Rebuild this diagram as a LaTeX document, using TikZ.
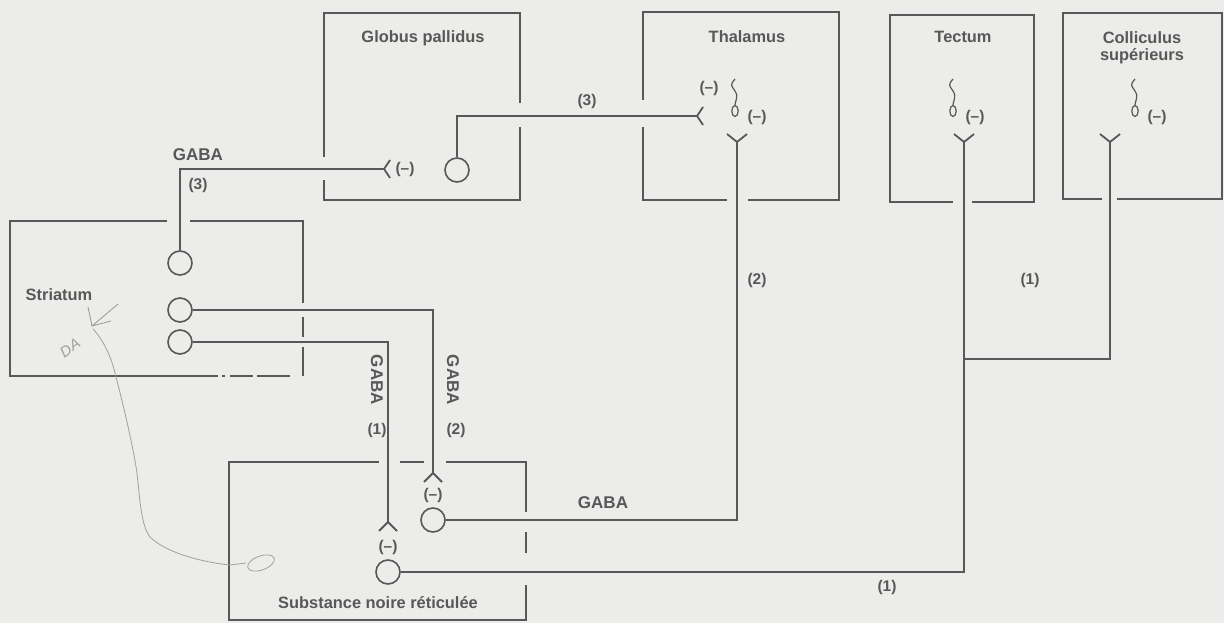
\documentclass[tikz,border=0pt]{standalone}
\usepackage{fontspec}
\setmainfont{Liberation Sans}
\usetikzlibrary{calc}
\definecolor{ink}{RGB}{88,88,88}
\definecolor{paper}{RGB}{236,236,234}
\definecolor{pencil}{RGB}{160,160,160}
\newcommand\forkR[1]{\draw[wire] (#1) -- ++(6,-9) (#1) -- ++(6,9);}
\newcommand\forkU[1]{\draw[wire] (#1) -- ++(-10,-8) (#1) -- ++(10,-8);}
\newcommand\forkD[1]{\draw[wire] (#1) -- ++(-9,9) (#1) -- ++(9,9);}
\newcommand\axonend[1]{\draw[ink,line width=1.2pt] ($(#1)+(0,-32)$) .. controls ++(-5,6) and ++(-4,-6) .. ($(#1)+(0,-20)$) .. controls ++(4,6) and ++(0,-4) .. ($(#1)+(0,-6)$);
  \draw[ink,line width=1.2pt] (#1) ellipse [x radius=3.2, y radius=5.5];}
\begin{document}
\begin{tikzpicture}[x=1pt,y=-1pt,
  box/.style={draw=ink,line width=2.2pt},
  wire/.style={draw=ink,line width=1.8pt},
  neuron/.style={circle,draw=ink,line width=1.6pt,minimum size=24pt,inner sep=0pt},
  lbl/.style={text=ink,font=\fontsize{16.4}{19}\selectfont\bfseries,inner sep=0pt,align=center},
  slbl/.style={text=ink,font=\fontsize{15.5}{17}\selectfont\bfseries,inner sep=0pt},
  glbl/.style={text=ink,font=\fontsize{17}{19}\selectfont\bfseries,inner sep=0pt}]
\fill[paper] (0,0) rectangle (1224,623);
\useasboundingbox (0,0) rectangle (1224,623);

% ---------- boxes ----------
% Globus pallidus
\draw[box] (324,157) -- (324,13) -- (520,13) -- (520,103) (520,127) -- (520,200) -- (324,200) -- (324,180);
% Thalamus
\draw[box] (643,100) -- (643,12) -- (839,12) -- (839,200) -- (748,200) (727,200) -- (643,200) -- (643,127);
% Tectum
\draw[box] (953,202) -- (890,202) -- (890,15) -- (1034,15) -- (1034,202) -- (972,202);
% Colliculus
\draw[box] (1102,199) -- (1063,199) -- (1063,13) -- (1222,13) -- (1222,199) -- (1117,199);
% Striatum
\draw[box] (167,221) -- (10,221) -- (10,376) -- (218,376);
\draw[box] (190,221) -- (303,221) -- (303,303);
\draw[box] (303,317) -- (303,337) (303,347) -- (303,376);
\draw[box] (222,376) -- (225,376) (230,376) -- (253,376) (257,376) -- (290,376);
% Substance noire
\draw[box] (379,462) -- (229,462) -- (229,620) -- (526,620) -- (526,585);
\draw[box] (400,462) -- (424,462) (446,462) -- (526,462) -- (526,512);
\draw[box] (526,532) -- (526,553);

% ---------- box titles ----------
\node[lbl] (tgp) at (423,38) {Globus pallidus};
\node[lbl] (tth) at (747,37) {Thalamus};
\node[lbl] (tte) at (963,37) {Tectum};
\node[lbl] (tco) at (1142,48) {Colliculus\\[-2pt]supérieurs};
\node[lbl] (tst) at (59,295) {Striatum};
\node[lbl] (tsn) at (378,603) {Substance noire réticulée};

% ---------- neurons ----------
\node[neuron] (s1) at (180,263) {};
\node[neuron] (s2) at (180,310) {};
\node[neuron] (s3) at (180,342) {};
\node[neuron] (gp) at (457,170) {};
\node[neuron] (sn2) at (433,520) {};
\node[neuron] (sn1) at (388,572) {};

% ---------- synapse points ----------
\coordinate (gpsyn) at (384,169);
\coordinate (thsyn) at (697,116);
\coordinate (sn2syn) at (433,473);
\coordinate (sn1syn) at (388,522);
\coordinate (thY) at (737,142);
\coordinate (teY) at (964,142);
\coordinate (coY) at (1110,142);
\coordinate (coJ) at (964,359);

% ---------- connectors ----------
\draw[wire] (s1.north) |- (gpsyn);
\draw[wire] (gp.north) |- (thsyn);
\draw[wire] (s2.east) -| (sn2syn);
\draw[wire] (s3.east) -| (sn1syn);
\draw[wire] (sn2.east) -| (thY);
\draw[wire] (sn1.east) -| (teY);
\draw[wire] (coY) |- (coJ);

\forkR{gpsyn}
\forkR{thsyn}
\forkD{sn2syn}
\forkD{sn1syn}
\forkU{thY}
\forkU{teY}
\forkU{coY}

% axon terminals
\axonend{735,111}
\axonend{953,111}
\axonend{1135,111}

% ---------- inhibition signs ----------
\node[slbl] (m1) at (405,169) {(--)};
\node[slbl] (m2) at (709,88) {(--)};
\node[slbl] (m3) at (757,117) {(--)};
\node[slbl] (m4) at (975,117) {(--)};
\node[slbl] (m5) at (1157,117) {(--)};
\node[slbl] (m6) at (433,495) {(--)};
\node[slbl] (m7) at (388,547) {(--)};

% ---------- labels ----------
\node[glbl] (g3) at (198,155) {GABA};
\node[slbl] (n3a) at (198,185) {(3)};
\node[slbl] (n3b) at (587,101) {(3)};
\node[glbl,rotate=-90] (g1) at (377,380) {GABA};
\node[slbl] (n1a) at (377,430) {(1)};
\node[glbl,rotate=-90] (g2) at (453,380) {GABA};
\node[slbl] (n2a) at (456,430) {(2)};
\node[slbl] (n2b) at (757,280) {(2)};
\node[slbl] (n1b) at (1030,280) {(1)};
\node[glbl] (g4) at (603,503) {GABA};
\node[slbl] (n1c) at (887,587) {(1)};

% ---------- pencil annotation ----------
\draw[pencil,line width=0.9pt,line cap=round] (88,307) -- (92,326) -- (118,304) (92,326) -- (111,321);
\node[text=pencil,rotate=35,inner sep=0pt,font=\fontsize{15}{15}\selectfont\itshape] (da) at (70,348) {DA};
\draw[pencil,line width=0.8pt] (93,329) .. controls (105,342) and (112,360) .. (115,373)
  .. controls (122,400) and (132,440) .. (137,473)
  .. controls (140,500) and (141,525) .. (150,537)
  .. controls (165,552) and (200,562) .. (230,565) -- (246,563);
\draw[pencil,line width=0.8pt,rotate around={20:(261,563)}] (261,563) ellipse [x radius=14, y radius=7];
\end{tikzpicture}
\end{document}
